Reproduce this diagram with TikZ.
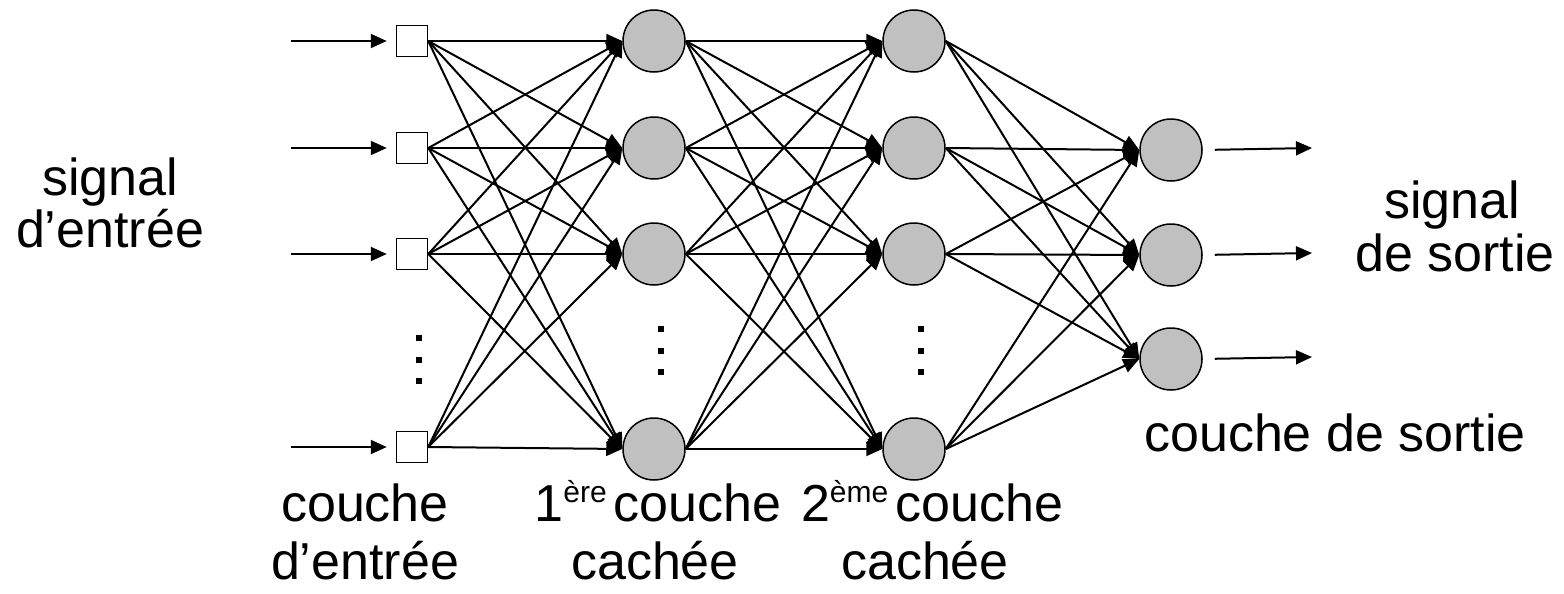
\documentclass[tikz,border=0pt]{standalone}
\usepackage{fontspec}
\setmainfont{Liberation Sans}
\usetikzlibrary{arrows.meta}
\definecolor{neurongray}{HTML}{C0C0C0}
\newcommand{\supx}[1]{\raisebox{0.36em}{\fontsize{15pt}{15pt}\selectfont #1}}
\begin{document}
\begin{tikzpicture}[x=0.5pt,y=-0.5pt,
  inbox/.style={draw=black,line width=0.75pt,fill=white,minimum size=15.5pt,inner sep=0pt},
  neuron/.style={circle,draw=black,line width=0.75pt,fill=neurongray,minimum size=31pt,inner sep=0pt},
  dotmark/.style={fill=black,minimum size=3pt,inner sep=0pt},
  link/.style={line width=1pt,-{Triangle[length=8pt,width=7pt]}},
  lbl/.style={font=\fontsize{26pt}{26pt}\selectfont,anchor=base,inner sep=0pt}]
\useasboundingbox (0,0) rectangle (1564,594);
% input layer
\foreach \n/\y in {1/41,2/148,3/254,4/447}{
  \node[inbox] (i\n) at (412,\y) {};
  \coordinate (s\n) at (291,\y);
}
% hidden layers
\foreach \n/\y in {1/41,2/148,3/254,4/449}{
  \node[neuron] (h\n) at (654,\y) {};
  \node[neuron] (g\n) at (914,\y) {};
}
% output layer
\foreach \n/\y in {1/150,2/255,3/359}{
  \node[neuron] (o\n) at (1171,\y) {};
  \coordinate (t\n) at (1312,\y-2);
}
% dots
\foreach \n/\y in {1/338,2/360,3/381}{ \node[dotmark] (di\n) at (419,\y) {}; }
\foreach \n/\y in {1/329,2/351,3/372}{
  \node[dotmark] (dh\n) at (661,\y) {};
  \node[dotmark] (dg\n) at (921,\y) {};
}
% connectors
\foreach \n in {1,...,4}{
  \draw[link,shorten >=4.5pt] (s\n) -- (i\n.west);
  \foreach \m in {1,...,4}{
    \draw[link] (i\n.east) -- (h\m.west);
    \draw[link] (h\n.east) -- (g\m.west);
  }
  \foreach \m in {1,2,3}{
    \draw[link] (g\n.east) -- (o\m.west);
  }
}
\foreach \n in {1,2,3}{
  \draw[link,shorten <=6pt] (o\n.east) -- (t\n);
}
% labels
\node[lbl] (l1) at (110,195) {signal};
\node[lbl] (l2) at (110,247) {d’entrée};
\node[lbl] (r1) at (1452,218) {signal};
\node[lbl] (r2) at (1455,271) {de sortie};
\node[lbl] (r3) at (1335,451) {couche de sortie};
\node[lbl] (b1) at (365,521) {couche};
\node[lbl] (b2) at (365,579) {d’entrée};
\node[lbl] (b3) at (658,521) {1\supx{ère}\hspace{3.5pt}couche};
\node[lbl] (b4) at (655,579) {cachée};
\node[lbl] (b5) at (932,521) {2\supx{ème}\hspace{3.5pt}couche};
\node[lbl] (b6) at (925,579) {cachée};
\end{tikzpicture}
\end{document}
